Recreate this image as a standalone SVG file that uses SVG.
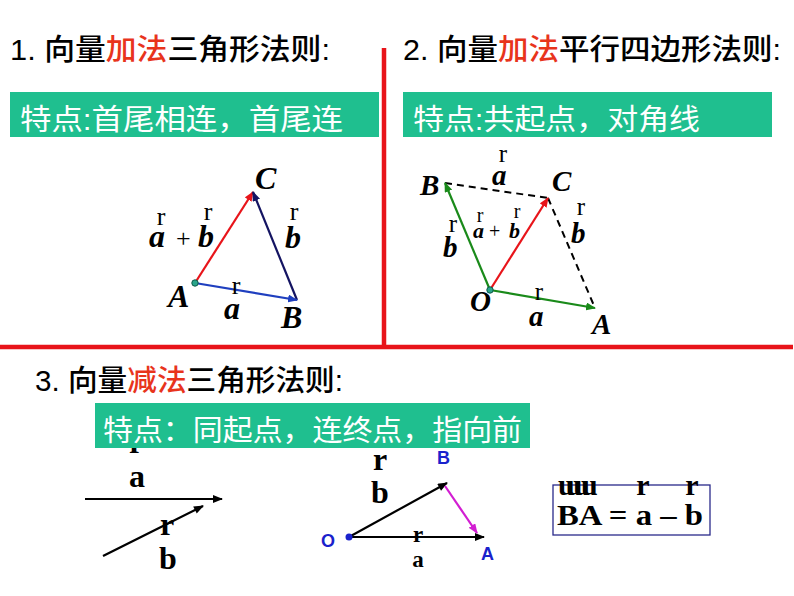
<svg xmlns="http://www.w3.org/2000/svg" width="794" height="596" viewBox="0 0 794 596">
<defs>
<style>
.ttl{font-family:"Liberation Sans","Noto Sans CJK SC",sans-serif;font-size:29px;font-weight:500;fill:#000}
.red{fill:#e8341c}
.box{fill:#1fbf8f}
.btx{font-family:"Liberation Sans","Noto Sans CJK SC",sans-serif;font-size:29px;fill:#fff}
.v1{font-family:"Liberation Serif",serif;font-weight:bold;font-style:italic;font-size:32px;fill:#000}
.r1{font-family:"Liberation Serif",serif;font-size:26px;fill:#000}
.v{font-family:"Liberation Serif",serif;font-weight:bold;font-style:italic;font-size:29px;fill:#000}
.vs{font-family:"Liberation Serif",serif;font-weight:bold;font-style:italic;font-size:22px;fill:#000}
.r{font-family:"Liberation Serif",serif;font-size:25px;fill:#000}
.rs{font-family:"Liberation Serif",serif;font-size:20px;fill:#000}
.u{font-family:"Liberation Serif",serif;font-weight:bold;font-size:32px;fill:#000}
.uf{font-family:"Liberation Serif",serif;font-weight:bold;font-size:30px;fill:#000}
.us{font-family:"Liberation Serif",serif;font-weight:bold;font-size:23px;fill:#000}
.pt{font-family:"Liberation Sans",sans-serif;font-weight:bold;font-size:18px;fill:#1a22cc}
.div{stroke:#e8141a;stroke-width:4.5}
</style>
<marker id="mRed" viewBox="0 0 10 8" refX="9" refY="4" markerWidth="10" markerHeight="8" markerUnits="userSpaceOnUse" orient="auto"><path d="M0,0 L10,4 L0,8 Z" fill="#e8141a"/></marker>
<marker id="mNavy" viewBox="0 0 10 8" refX="9" refY="4" markerWidth="10" markerHeight="8" markerUnits="userSpaceOnUse" orient="auto"><path d="M0,0 L10,4 L0,8 Z" fill="#141462"/></marker>
<marker id="mBlue" viewBox="0 0 10 8" refX="9" refY="4" markerWidth="10" markerHeight="8" markerUnits="userSpaceOnUse" orient="auto"><path d="M0,0 L10,4 L0,8 Z" fill="#1f3fbf"/></marker>
<marker id="mGreen" viewBox="0 0 10 8" refX="9" refY="4" markerWidth="10" markerHeight="8" markerUnits="userSpaceOnUse" orient="auto"><path d="M0,0 L10,4 L0,8 Z" fill="#1a8a1a"/></marker>
<marker id="mBlack" viewBox="0 0 10 8" refX="9" refY="4" markerWidth="11" markerHeight="8" markerUnits="userSpaceOnUse" orient="auto"><path d="M0,0 L10,4 L0,8 Z" fill="#000"/></marker>
<marker id="mMag" viewBox="0 0 10 8" refX="9" refY="4" markerWidth="10" markerHeight="8" markerUnits="userSpaceOnUse" orient="auto"><path d="M0,0 L10,4 L0,8 Z" fill="#d21ed2"/></marker>
</defs>
<rect width="794" height="596" fill="#fff"/>

<!-- dividers -->
<g id="dividers">
<line class="div" x1="384" y1="48" x2="384" y2="347"/>
<line class="div" x1="0" y1="347" x2="793" y2="347"/>
</g>

<!-- headings -->
<g id="title1"><text class="ttl" x="10" y="60" textLength="320" lengthAdjust="spacingAndGlyphs">1. 向量<tspan class="red">加法</tspan>三角形法则:</text></g>
<g id="title2"><text class="ttl" x="403" y="60" textLength="378" lengthAdjust="spacingAndGlyphs">2. 向量<tspan class="red">加法</tspan>平行四边形法则:</text></g>
<g id="title3"><text class="ttl" x="35" y="391" textLength="308" lengthAdjust="spacingAndGlyphs">3. 向量<tspan class="red">减法</tspan>三角形法则:</text></g>

<!-- part 3 left: partial r hidden behind box -->
<g id="sub-left">
<text class="u" x="136" y="453" text-anchor="middle">r</text>
<text class="u" x="137" y="487" text-anchor="middle">a</text>
<line x1="85" y1="499" x2="222" y2="499" stroke="#000" stroke-width="2.2" marker-end="url(#mBlack)"/>
<line x1="103" y1="556" x2="203" y2="506" stroke="#000" stroke-width="2.2" marker-end="url(#mBlack)"/>
<text class="u" x="167" y="535" text-anchor="middle">r</text>
<text class="u" x="168" y="569" text-anchor="middle">b</text>
</g>

<!-- feature boxes -->
<g id="box1"><rect class="box" x="10" y="92" width="369" height="45"/><text class="btx" x="20" y="130" textLength="323" lengthAdjust="spacingAndGlyphs">特点:首尾相连，首尾连</text></g>
<g id="box2"><rect class="box" x="403" y="92" width="369" height="45"/><text class="btx" x="413" y="130" textLength="287" lengthAdjust="spacingAndGlyphs">特点:共起点，对角线</text></g>
<g id="box3"><rect class="box" x="95" y="403" width="435" height="45"/><text class="btx" x="103" y="441" textLength="419" lengthAdjust="spacingAndGlyphs">特点：同起点，连终点，指向前</text></g>

<!-- diagram 1: triangle rule -->
<g id="diag1">
<g id="d1-connectors">
<line x1="195" y1="283" x2="253" y2="192" stroke="#e8141a" stroke-width="2.2" marker-end="url(#mRed)"/>
<line x1="297" y1="300" x2="253" y2="192" stroke="#141462" stroke-width="2.2" marker-end="url(#mNavy)"/>
<line x1="195" y1="283" x2="297" y2="300" stroke="#1f3fbf" stroke-width="2.2" marker-end="url(#mBlue)"/>
</g>
<circle cx="195" cy="283" r="3.2" fill="#2aa58a" stroke="#0d5a4a" stroke-width="1"/>
<text class="v1" x="255" y="189">C</text>
<text class="v1" x="168" y="307">A</text>
<text class="v1" x="281" y="328">B</text>
<text class="r1" x="161" y="225" text-anchor="middle">r</text>
<text class="r1" x="208" y="220" text-anchor="middle">r</text>
<text class="v1" x="149" y="247">a</text>
<text class="r1" x="176" y="247" font-size="29">+</text>
<text class="v1" x="198" y="247">b</text>
<text class="r1" x="294" y="220" text-anchor="middle">r</text>
<text class="v1" x="285" y="248">b</text>
<text class="r1" x="236" y="294" text-anchor="middle">r</text>
<text class="v1" x="224" y="319">a</text>
</g>

<!-- diagram 2: parallelogram rule -->
<g id="diag2">
<g id="d2-connectors">
<line x1="445" y1="183" x2="548" y2="198" stroke="#000" stroke-width="2" stroke-dasharray="7,5"/>
<line x1="548" y1="198" x2="595" y2="308" stroke="#000" stroke-width="2" stroke-dasharray="7,5"/>
<line x1="490" y1="290" x2="445" y2="183" stroke="#1a8a1a" stroke-width="2.2" marker-end="url(#mGreen)"/>
<line x1="490" y1="290" x2="595" y2="308" stroke="#1a8a1a" stroke-width="2.2" marker-end="url(#mGreen)"/>
<line x1="490" y1="290" x2="548" y2="198" stroke="#e8141a" stroke-width="2.2" marker-end="url(#mRed)"/>
</g>
<circle cx="490" cy="290" r="3.2" fill="#2aa58a" stroke="#0d5a4a" stroke-width="1"/>
<text class="v" x="420" y="195">B</text>
<text class="v" x="552" y="191">C</text>
<text class="v" x="470" y="311">O</text>
<text class="v" x="592" y="334">A</text>
<text class="r" x="503" y="162" text-anchor="middle">r</text>
<text class="v" x="492" y="185">a</text>
<text class="r" x="453" y="232" text-anchor="middle">r</text>
<text class="v" x="443" y="257">b</text>
<text class="rs" x="480" y="222" text-anchor="middle">r</text>
<text class="rs" x="517" y="218" text-anchor="middle">r</text>
<text class="vs" x="473" y="238">a</text>
<text class="rs" x="489" y="238">+</text>
<text class="vs" x="509" y="238">b</text>
<text class="r" x="581" y="215" text-anchor="middle">r</text>
<text class="v" x="571" y="243">b</text>
<text class="r" x="539" y="300" text-anchor="middle">r</text>
<text class="v" x="529" y="326">a</text>
</g>

<!-- diagram 3 middle: subtraction triangle -->
<g id="diag3">
<g id="d3-connectors">
<line x1="349" y1="537" x2="447" y2="483" stroke="#000" stroke-width="2.2" marker-end="url(#mBlack)"/>
<line x1="349" y1="537" x2="484" y2="537" stroke="#000" stroke-width="2.2" marker-end="url(#mBlack)"/>
<line x1="445" y1="486" x2="477" y2="533" stroke="#d21ed2" stroke-width="2.2" marker-end="url(#mMag)"/>
</g>
<circle cx="349" cy="537" r="3.5" fill="#1a22cc"/>
<text class="pt" x="321" y="547">O</text>
<text class="pt" x="437" y="464">B</text>
<text class="pt" x="481" y="560">A</text>
<text class="u" x="380" y="470" text-anchor="middle">r</text>
<text class="u" x="380" y="503" text-anchor="middle">b</text>
<text class="us" x="418" y="542" text-anchor="middle">r</text>
<text class="us" x="418" y="567" text-anchor="middle">a</text>
</g>

<!-- formula box -->
<g id="formula">
<rect x="553" y="485" width="157" height="50" fill="none" stroke="#2a2a8a" stroke-width="1.3"/>
<text class="uf" x="558" y="495" letter-spacing="-9">uuuu</text>
<text class="uf" x="643" y="495" text-anchor="middle">r</text>
<text class="uf" x="692" y="495" text-anchor="middle">r</text>
<text class="uf" x="557" y="525" textLength="146" lengthAdjust="spacingAndGlyphs">BA = a – b</text>
</g>
</svg>
